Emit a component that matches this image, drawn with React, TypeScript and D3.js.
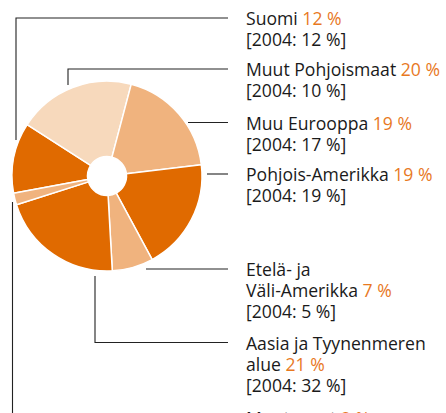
import React from "react";
import * as d3 from "d3";

// ---- data ----
const categories = [
  "Suomi",
  "Muut Pohjoismaat",
  "Muu Eurooppa",
  "Pohjois-Amerikka",
  "Etelä- ja Väli-Amerikka",
  "Aasia ja Tyynenmeren alue",
  "Muut maat",
];
const labelLines = [
  ["Suomi"],
  ["Muut Pohjoismaat"],
  ["Muu Eurooppa"],
  ["Pohjois-Amerikka"],
  ["Etelä- ja", "Väli-Amerikka"],
  ["Aasia ja Tyynenmeren", "alue"],
  ["Muut maat"],
];
const share2006 = [12, 20, 19, 19, 7, 21, 2];
const share2004 = [12, 10, 17, 19, 5, 32, 5];
const shadeKey = ["dark", "light", "medium", "dark", "medium", "dark", "medium"];

// ---- layout / style ----
const W = 446;
const H = 413;
const CX = 107;
const CY = 176;
const R = 95;
const R0 = 19.5;
const START = (259.6 * Math.PI) / 180;
const TEXT_X = 246;
const LINE_END = 228;
const LINE_H = 21;
const FONT = "'Open Sans', 'Noto Sans', sans-serif";
const FONT_SIZE = 17.6;
const shades: Record<string, string> = {
  dark: "#E06A00",
  medium: "#F0B37E",
  light: "#F7D9BC",
};
const ORANGE = "#E8791F";
// first-line baselines of the labels
const labelBaseline = [25, 76, 129.5, 181, 276, 349.5, 425];
// leader line start points (where each leader leaves the pie)
const leaderStart: [number, number][] = [
  [16, 140],
  [68, 85],
  [188, NaN],
  [207, NaN],
  [146, NaN],
  [95, 276],
  [12.5, 202],
];

export default function App() {
  const pie = d3
    .pie<number>()
    .sort(null)
    .value((d) => d)
    .startAngle(START)
    .endAngle(START + 2 * Math.PI);
  const arcs = pie(share2006);
  const arc = d3.arc<d3.PieArcDatum<number>>().innerRadius(R0).outerRadius(R);

  return (
    <svg
      width={W}
      height={H}
      style={{ position: "absolute", left: 0, top: 0, background: "#fff" }}
    >
      <g transform={`translate(${CX},${CY})`}>
        {arcs.map((a, i) => (
          <path
            key={categories[i]}
            d={arc(a) || ""}
            fill={shades[shadeKey[i]]}
            stroke="#fff"
            strokeWidth={1.5}
            strokeLinejoin="round"
          />
        ))}
      </g>
      {categories.map((c, i) => {
        const ly = labelBaseline[i] - 7;
        const [sx, sy] = leaderStart[i];
        const pts: [number, number][] = isNaN(sy)
          ? [
              [sx, ly],
              [LINE_END, ly],
            ]
          : [
              [sx, sy],
              [sx, ly],
              [LINE_END, ly],
            ];
        const line = d3.line()(pts) || "";
        const lines = labelLines[i];
        return (
          <g key={c}>
            <path d={line} fill="none" stroke="#222" strokeWidth={1.1} />
            <text
              fontFamily={FONT}
              fontSize={FONT_SIZE}
              fill="#1a1a1a"
            >
              {lines.map((t, j) => (
                <tspan key={j} x={TEXT_X} y={labelBaseline[i] + j * LINE_H}>
                  {t}
                  {j === lines.length - 1 ? (
                    <tspan fill={ORANGE}>{` ${share2006[i]} %`}</tspan>
                  ) : null}
                </tspan>
              ))}
              <tspan
                x={TEXT_X}
                y={labelBaseline[i] + lines.length * LINE_H}
              >{`[2004: ${share2004[i]} %]`}</tspan>
            </text>
          </g>
        );
      })}
    </svg>
  );
}
